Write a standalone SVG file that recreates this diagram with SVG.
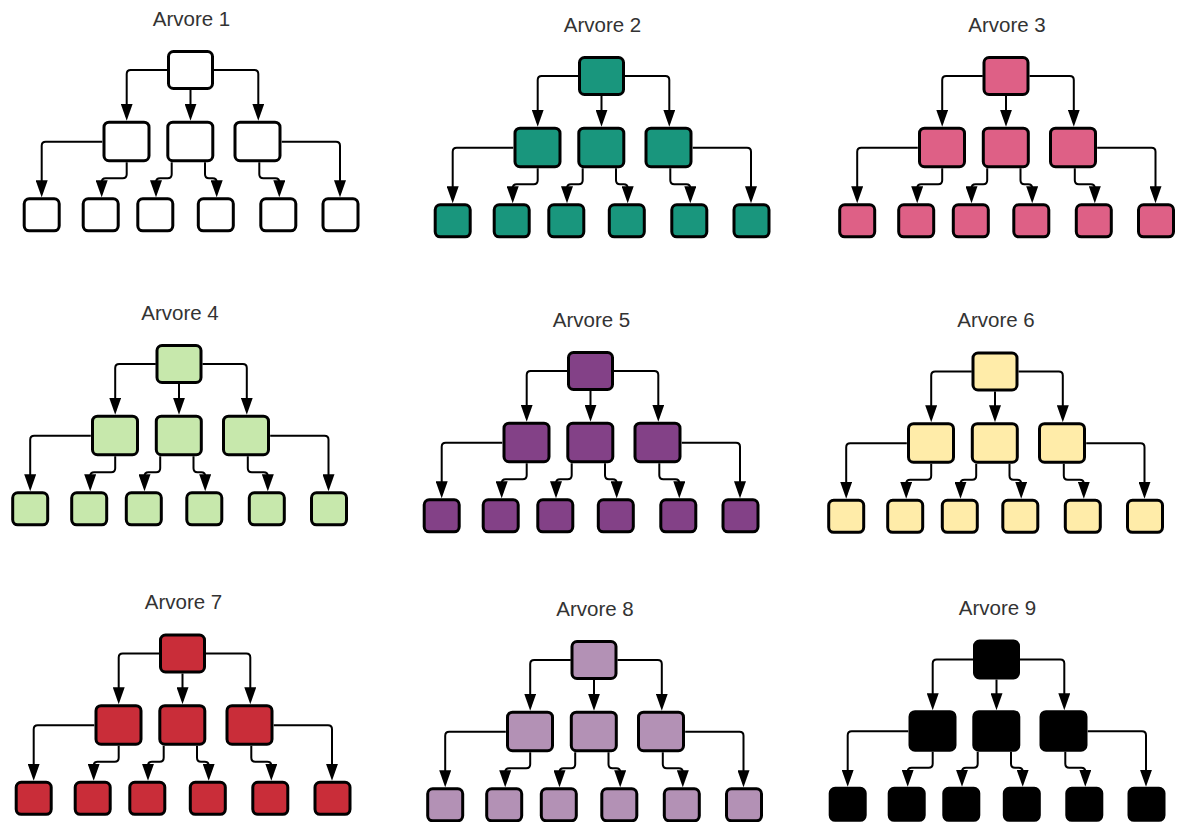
<svg xmlns="http://www.w3.org/2000/svg" width="1181" height="822" viewBox="0 0 1181 822">
  <defs>
    <marker id="arrow" markerUnits="userSpaceOnUse" markerWidth="17" markerHeight="12" refX="13" refY="6" orient="auto">
      <path d="M0,0 L17,6 L0,12 Z" fill="#000"/>
    </marker>
    <style>
      .title { font-family: "Liberation Sans", Arial, sans-serif; font-size: 20.5px; fill: #333333; text-anchor: middle; }
      .node rect { stroke: #000; stroke-width: 3; }
      .edges path { fill: none; stroke: #000; stroke-width: 2; marker-end: url(#arrow); }
      .t1 .node rect { fill: #ffffff; }
      .t2 .node rect { fill: #19967d; }
      .t3 .node rect { fill: #de6086; }
      .t4 .node rect { fill: #c7e8ac; }
      .t5 .node rect { fill: #834187; }
      .t6 .node rect { fill: #ffeca9; }
      .t7 .node rect { fill: #c92d39; }
      .t8 .node rect { fill: #b391b5; }
      .t9 .node rect { fill: #000000; }
    </style>
  </defs>
  <rect width="1181" height="822" fill="#ffffff"/>

  <!-- Arvore 1 -->
  <g id="tree1" class="t1" transform="translate(0,0)">
    <text class="title" x="191.5" y="25.7">Arvore 1</text>
    <g class="edges">
      <path d="M167.3,70 H130.7 Q126.7,70 126.7,74 V116.7"/>
      <path d="M190.5,90 V116.7"/>
      <path d="M214,70 H254.3 Q258.3,70 258.3,74 V116.7"/>
      <path d="M102.3,141.7 H45.7 Q41.7,141.7 41.7,145.7 V193.3"/>
      <path d="M126.7,162.3 V174.3 Q126.7,178.3 122.7,178.3 H105.7 Q101.7,178.3 101.7,182.3 V193.3"/>
      <path d="M171.7,162.3 V174.3 Q171.7,178.3 167.7,178.3 H160 Q156,178.3 156,182.3 V193.3"/>
      <path d="M205,162.3 V174.3 Q205,178.3 209,178.3 H212.7 Q216.7,178.3 216.7,182.3 V193.3"/>
      <path d="M259.3,162.3 V174.3 Q259.3,178.3 263.3,178.3 H275.3 Q279.3,178.3 279.3,182.3 V193.3"/>
      <path d="M281.7,141.7 H336 Q340,141.7 340,145.7 V193.3"/>
    </g>
    <g id="t1-root" class="node"><rect x="168.5" y="51.5" width="44" height="37" rx="5"/></g>
    <g id="t1-a" class="node"><rect x="104" y="122.2" width="45" height="38.5" rx="5"/></g>
    <g id="t1-b" class="node"><rect x="167.8" y="122.2" width="45" height="38.5" rx="5"/></g>
    <g id="t1-c" class="node"><rect x="235" y="122.2" width="45" height="38.5" rx="5"/></g>
    <g id="t1-l1" class="node"><rect x="24.2" y="198.8" width="35" height="32" rx="5"/></g>
    <g id="t1-l2" class="node"><rect x="83.2" y="198.8" width="35" height="32" rx="5"/></g>
    <g id="t1-l3" class="node"><rect x="137.8" y="198.8" width="35" height="32" rx="5"/></g>
    <g id="t1-l4" class="node"><rect x="198.3" y="198.8" width="35" height="32" rx="5"/></g>
    <g id="t1-l5" class="node"><rect x="260.8" y="198.8" width="35" height="32" rx="5"/></g>
    <g id="t1-l6" class="node"><rect x="323" y="198.8" width="35" height="32" rx="5"/></g>
  </g>

  <!-- Arvore 2 -->
  <g id="tree2" class="t2" transform="translate(411,6)">
    <text class="title" x="191.5" y="25.7">Arvore 2</text>
    <g class="edges">
      <path d="M167.3,70 H130.7 Q126.7,70 126.7,74 V116.7"/>
      <path d="M190.5,90 V116.7"/>
      <path d="M214,70 H254.3 Q258.3,70 258.3,74 V116.7"/>
      <path d="M102.3,141.7 H45.7 Q41.7,141.7 41.7,145.7 V193.3"/>
      <path d="M126.7,162.3 V174.3 Q126.7,178.3 122.7,178.3 H105.7 Q101.7,178.3 101.7,182.3 V193.3"/>
      <path d="M171.7,162.3 V174.3 Q171.7,178.3 167.7,178.3 H160 Q156,178.3 156,182.3 V193.3"/>
      <path d="M205,162.3 V174.3 Q205,178.3 209,178.3 H212.7 Q216.7,178.3 216.7,182.3 V193.3"/>
      <path d="M259.3,162.3 V174.3 Q259.3,178.3 263.3,178.3 H275.3 Q279.3,178.3 279.3,182.3 V193.3"/>
      <path d="M281.7,141.7 H336 Q340,141.7 340,145.7 V193.3"/>
    </g>
    <g id="t2-root" class="node"><rect x="168.5" y="51.5" width="44" height="37" rx="5"/></g>
    <g id="t2-a" class="node"><rect x="104" y="122.2" width="45" height="38.5" rx="5"/></g>
    <g id="t2-b" class="node"><rect x="167.8" y="122.2" width="45" height="38.5" rx="5"/></g>
    <g id="t2-c" class="node"><rect x="235" y="122.2" width="45" height="38.5" rx="5"/></g>
    <g id="t2-l1" class="node"><rect x="24.2" y="198.8" width="35" height="32" rx="5"/></g>
    <g id="t2-l2" class="node"><rect x="83.2" y="198.8" width="35" height="32" rx="5"/></g>
    <g id="t2-l3" class="node"><rect x="137.8" y="198.8" width="35" height="32" rx="5"/></g>
    <g id="t2-l4" class="node"><rect x="198.3" y="198.8" width="35" height="32" rx="5"/></g>
    <g id="t2-l5" class="node"><rect x="260.8" y="198.8" width="35" height="32" rx="5"/></g>
    <g id="t2-l6" class="node"><rect x="323" y="198.8" width="35" height="32" rx="5"/></g>
  </g>

  <!-- Arvore 3 -->
  <g id="tree3" class="t3" transform="translate(815.5,6)">
    <text class="title" x="191.5" y="25.7">Arvore 3</text>
    <g class="edges">
      <path d="M167.3,70 H130.7 Q126.7,70 126.7,74 V116.7"/>
      <path d="M190.5,90 V116.7"/>
      <path d="M214,70 H254.3 Q258.3,70 258.3,74 V116.7"/>
      <path d="M102.3,141.7 H45.7 Q41.7,141.7 41.7,145.7 V193.3"/>
      <path d="M126.7,162.3 V174.3 Q126.7,178.3 122.7,178.3 H105.7 Q101.7,178.3 101.7,182.3 V193.3"/>
      <path d="M171.7,162.3 V174.3 Q171.7,178.3 167.7,178.3 H160 Q156,178.3 156,182.3 V193.3"/>
      <path d="M205,162.3 V174.3 Q205,178.3 209,178.3 H212.7 Q216.7,178.3 216.7,182.3 V193.3"/>
      <path d="M259.3,162.3 V174.3 Q259.3,178.3 263.3,178.3 H275.3 Q279.3,178.3 279.3,182.3 V193.3"/>
      <path d="M281.7,141.7 H336 Q340,141.7 340,145.7 V193.3"/>
    </g>
    <g id="t3-root" class="node"><rect x="168.5" y="51.5" width="44" height="37" rx="5"/></g>
    <g id="t3-a" class="node"><rect x="104" y="122.2" width="45" height="38.5" rx="5"/></g>
    <g id="t3-b" class="node"><rect x="167.8" y="122.2" width="45" height="38.5" rx="5"/></g>
    <g id="t3-c" class="node"><rect x="235" y="122.2" width="45" height="38.5" rx="5"/></g>
    <g id="t3-l1" class="node"><rect x="24.2" y="198.8" width="35" height="32" rx="5"/></g>
    <g id="t3-l2" class="node"><rect x="83.2" y="198.8" width="35" height="32" rx="5"/></g>
    <g id="t3-l3" class="node"><rect x="137.8" y="198.8" width="35" height="32" rx="5"/></g>
    <g id="t3-l4" class="node"><rect x="198.3" y="198.8" width="35" height="32" rx="5"/></g>
    <g id="t3-l5" class="node"><rect x="260.8" y="198.8" width="35" height="32" rx="5"/></g>
    <g id="t3-l6" class="node"><rect x="323" y="198.8" width="35" height="32" rx="5"/></g>
  </g>

  <!-- Arvore 4 -->
  <g id="tree4" class="t4" transform="translate(-11.5,294)">
    <text class="title" x="191.5" y="25.7">Arvore 4</text>
    <g class="edges">
      <path d="M167.3,70 H130.7 Q126.7,70 126.7,74 V116.7"/>
      <path d="M190.5,90 V116.7"/>
      <path d="M214,70 H254.3 Q258.3,70 258.3,74 V116.7"/>
      <path d="M102.3,141.7 H45.7 Q41.7,141.7 41.7,145.7 V193.3"/>
      <path d="M126.7,162.3 V174.3 Q126.7,178.3 122.7,178.3 H105.7 Q101.7,178.3 101.7,182.3 V193.3"/>
      <path d="M171.7,162.3 V174.3 Q171.7,178.3 167.7,178.3 H160 Q156,178.3 156,182.3 V193.3"/>
      <path d="M205,162.3 V174.3 Q205,178.3 209,178.3 H212.7 Q216.7,178.3 216.7,182.3 V193.3"/>
      <path d="M259.3,162.3 V174.3 Q259.3,178.3 263.3,178.3 H275.3 Q279.3,178.3 279.3,182.3 V193.3"/>
      <path d="M281.7,141.7 H336 Q340,141.7 340,145.7 V193.3"/>
    </g>
    <g id="t4-root" class="node"><rect x="168.5" y="51.5" width="44" height="37" rx="5"/></g>
    <g id="t4-a" class="node"><rect x="104" y="122.2" width="45" height="38.5" rx="5"/></g>
    <g id="t4-b" class="node"><rect x="167.8" y="122.2" width="45" height="38.5" rx="5"/></g>
    <g id="t4-c" class="node"><rect x="235" y="122.2" width="45" height="38.5" rx="5"/></g>
    <g id="t4-l1" class="node"><rect x="24.2" y="198.8" width="35" height="32" rx="5"/></g>
    <g id="t4-l2" class="node"><rect x="83.2" y="198.8" width="35" height="32" rx="5"/></g>
    <g id="t4-l3" class="node"><rect x="137.8" y="198.8" width="35" height="32" rx="5"/></g>
    <g id="t4-l4" class="node"><rect x="198.3" y="198.8" width="35" height="32" rx="5"/></g>
    <g id="t4-l5" class="node"><rect x="260.8" y="198.8" width="35" height="32" rx="5"/></g>
    <g id="t4-l6" class="node"><rect x="323" y="198.8" width="35" height="32" rx="5"/></g>
  </g>

  <!-- Arvore 5 -->
  <g id="tree5" class="t5" transform="translate(400,301)">
    <text class="title" x="191.5" y="25.7">Arvore 5</text>
    <g class="edges">
      <path d="M167.3,70 H130.7 Q126.7,70 126.7,74 V116.7"/>
      <path d="M190.5,90 V116.7"/>
      <path d="M214,70 H254.3 Q258.3,70 258.3,74 V116.7"/>
      <path d="M102.3,141.7 H45.7 Q41.7,141.7 41.7,145.7 V193.3"/>
      <path d="M126.7,162.3 V174.3 Q126.7,178.3 122.7,178.3 H105.7 Q101.7,178.3 101.7,182.3 V193.3"/>
      <path d="M171.7,162.3 V174.3 Q171.7,178.3 167.7,178.3 H160 Q156,178.3 156,182.3 V193.3"/>
      <path d="M205,162.3 V174.3 Q205,178.3 209,178.3 H212.7 Q216.7,178.3 216.7,182.3 V193.3"/>
      <path d="M259.3,162.3 V174.3 Q259.3,178.3 263.3,178.3 H275.3 Q279.3,178.3 279.3,182.3 V193.3"/>
      <path d="M281.7,141.7 H336 Q340,141.7 340,145.7 V193.3"/>
    </g>
    <g id="t5-root" class="node"><rect x="168.5" y="51.5" width="44" height="37" rx="5"/></g>
    <g id="t5-a" class="node"><rect x="104" y="122.2" width="45" height="38.5" rx="5"/></g>
    <g id="t5-b" class="node"><rect x="167.8" y="122.2" width="45" height="38.5" rx="5"/></g>
    <g id="t5-c" class="node"><rect x="235" y="122.2" width="45" height="38.5" rx="5"/></g>
    <g id="t5-l1" class="node"><rect x="24.2" y="198.8" width="35" height="32" rx="5"/></g>
    <g id="t5-l2" class="node"><rect x="83.2" y="198.8" width="35" height="32" rx="5"/></g>
    <g id="t5-l3" class="node"><rect x="137.8" y="198.8" width="35" height="32" rx="5"/></g>
    <g id="t5-l4" class="node"><rect x="198.3" y="198.8" width="35" height="32" rx="5"/></g>
    <g id="t5-l5" class="node"><rect x="260.8" y="198.8" width="35" height="32" rx="5"/></g>
    <g id="t5-l6" class="node"><rect x="323" y="198.8" width="35" height="32" rx="5"/></g>
  </g>

  <!-- Arvore 6 -->
  <g id="tree6" class="t6" transform="translate(804.5,301.5)">
    <text class="title" x="191.5" y="25.7">Arvore 6</text>
    <g class="edges">
      <path d="M167.3,70 H130.7 Q126.7,70 126.7,74 V116.7"/>
      <path d="M190.5,90 V116.7"/>
      <path d="M214,70 H254.3 Q258.3,70 258.3,74 V116.7"/>
      <path d="M102.3,141.7 H45.7 Q41.7,141.7 41.7,145.7 V193.3"/>
      <path d="M126.7,162.3 V174.3 Q126.7,178.3 122.7,178.3 H105.7 Q101.7,178.3 101.7,182.3 V193.3"/>
      <path d="M171.7,162.3 V174.3 Q171.7,178.3 167.7,178.3 H160 Q156,178.3 156,182.3 V193.3"/>
      <path d="M205,162.3 V174.3 Q205,178.3 209,178.3 H212.7 Q216.7,178.3 216.7,182.3 V193.3"/>
      <path d="M259.3,162.3 V174.3 Q259.3,178.3 263.3,178.3 H275.3 Q279.3,178.3 279.3,182.3 V193.3"/>
      <path d="M281.7,141.7 H336 Q340,141.7 340,145.7 V193.3"/>
    </g>
    <g id="t6-root" class="node"><rect x="168.5" y="51.5" width="44" height="37" rx="5"/></g>
    <g id="t6-a" class="node"><rect x="104" y="122.2" width="45" height="38.5" rx="5"/></g>
    <g id="t6-b" class="node"><rect x="167.8" y="122.2" width="45" height="38.5" rx="5"/></g>
    <g id="t6-c" class="node"><rect x="235" y="122.2" width="45" height="38.5" rx="5"/></g>
    <g id="t6-l1" class="node"><rect x="24.2" y="198.8" width="35" height="32" rx="5"/></g>
    <g id="t6-l2" class="node"><rect x="83.2" y="198.8" width="35" height="32" rx="5"/></g>
    <g id="t6-l3" class="node"><rect x="137.8" y="198.8" width="35" height="32" rx="5"/></g>
    <g id="t6-l4" class="node"><rect x="198.3" y="198.8" width="35" height="32" rx="5"/></g>
    <g id="t6-l5" class="node"><rect x="260.8" y="198.8" width="35" height="32" rx="5"/></g>
    <g id="t6-l6" class="node"><rect x="323" y="198.8" width="35" height="32" rx="5"/></g>
  </g>

  <!-- Arvore 7 -->
  <g id="tree7" class="t7" transform="translate(-8,583.5)">
    <text class="title" x="191.5" y="25.7">Arvore 7</text>
    <g class="edges">
      <path d="M167.3,70 H130.7 Q126.7,70 126.7,74 V116.7"/>
      <path d="M190.5,90 V116.7"/>
      <path d="M214,70 H254.3 Q258.3,70 258.3,74 V116.7"/>
      <path d="M102.3,141.7 H45.7 Q41.7,141.7 41.7,145.7 V193.3"/>
      <path d="M126.7,162.3 V174.3 Q126.7,178.3 122.7,178.3 H105.7 Q101.7,178.3 101.7,182.3 V193.3"/>
      <path d="M171.7,162.3 V174.3 Q171.7,178.3 167.7,178.3 H160 Q156,178.3 156,182.3 V193.3"/>
      <path d="M205,162.3 V174.3 Q205,178.3 209,178.3 H212.7 Q216.7,178.3 216.7,182.3 V193.3"/>
      <path d="M259.3,162.3 V174.3 Q259.3,178.3 263.3,178.3 H275.3 Q279.3,178.3 279.3,182.3 V193.3"/>
      <path d="M281.7,141.7 H336 Q340,141.7 340,145.7 V193.3"/>
    </g>
    <g id="t7-root" class="node"><rect x="168.5" y="51.5" width="44" height="37" rx="5"/></g>
    <g id="t7-a" class="node"><rect x="104" y="122.2" width="45" height="38.5" rx="5"/></g>
    <g id="t7-b" class="node"><rect x="167.8" y="122.2" width="45" height="38.5" rx="5"/></g>
    <g id="t7-c" class="node"><rect x="235" y="122.2" width="45" height="38.5" rx="5"/></g>
    <g id="t7-l1" class="node"><rect x="24.2" y="198.8" width="35" height="32" rx="5"/></g>
    <g id="t7-l2" class="node"><rect x="83.2" y="198.8" width="35" height="32" rx="5"/></g>
    <g id="t7-l3" class="node"><rect x="137.8" y="198.8" width="35" height="32" rx="5"/></g>
    <g id="t7-l4" class="node"><rect x="198.3" y="198.8" width="35" height="32" rx="5"/></g>
    <g id="t7-l5" class="node"><rect x="260.8" y="198.8" width="35" height="32" rx="5"/></g>
    <g id="t7-l6" class="node"><rect x="323" y="198.8" width="35" height="32" rx="5"/></g>
  </g>

  <!-- Arvore 8 -->
  <g id="tree8" class="t8" transform="translate(403.5,590)">
    <text class="title" x="191.5" y="25.7">Arvore 8</text>
    <g class="edges">
      <path d="M167.3,70 H130.7 Q126.7,70 126.7,74 V116.7"/>
      <path d="M190.5,90 V116.7"/>
      <path d="M214,70 H254.3 Q258.3,70 258.3,74 V116.7"/>
      <path d="M102.3,141.7 H45.7 Q41.7,141.7 41.7,145.7 V193.3"/>
      <path d="M126.7,162.3 V174.3 Q126.7,178.3 122.7,178.3 H105.7 Q101.7,178.3 101.7,182.3 V193.3"/>
      <path d="M171.7,162.3 V174.3 Q171.7,178.3 167.7,178.3 H160 Q156,178.3 156,182.3 V193.3"/>
      <path d="M205,162.3 V174.3 Q205,178.3 209,178.3 H212.7 Q216.7,178.3 216.7,182.3 V193.3"/>
      <path d="M259.3,162.3 V174.3 Q259.3,178.3 263.3,178.3 H275.3 Q279.3,178.3 279.3,182.3 V193.3"/>
      <path d="M281.7,141.7 H336 Q340,141.7 340,145.7 V193.3"/>
    </g>
    <g id="t8-root" class="node"><rect x="168.5" y="51.5" width="44" height="37" rx="5"/></g>
    <g id="t8-a" class="node"><rect x="104" y="122.2" width="45" height="38.5" rx="5"/></g>
    <g id="t8-b" class="node"><rect x="167.8" y="122.2" width="45" height="38.5" rx="5"/></g>
    <g id="t8-c" class="node"><rect x="235" y="122.2" width="45" height="38.5" rx="5"/></g>
    <g id="t8-l1" class="node"><rect x="24.2" y="198.8" width="35" height="32" rx="5"/></g>
    <g id="t8-l2" class="node"><rect x="83.2" y="198.8" width="35" height="32" rx="5"/></g>
    <g id="t8-l3" class="node"><rect x="137.8" y="198.8" width="35" height="32" rx="5"/></g>
    <g id="t8-l4" class="node"><rect x="198.3" y="198.8" width="35" height="32" rx="5"/></g>
    <g id="t8-l5" class="node"><rect x="260.8" y="198.8" width="35" height="32" rx="5"/></g>
    <g id="t8-l6" class="node"><rect x="323" y="198.8" width="35" height="32" rx="5"/></g>
  </g>

  <!-- Arvore 9 -->
  <g id="tree9" class="t9" transform="translate(806,589.5)">
    <text class="title" x="191.5" y="25.7">Arvore 9</text>
    <g class="edges">
      <path d="M167.3,70 H130.7 Q126.7,70 126.7,74 V116.7"/>
      <path d="M190.5,90 V116.7"/>
      <path d="M214,70 H254.3 Q258.3,70 258.3,74 V116.7"/>
      <path d="M102.3,141.7 H45.7 Q41.7,141.7 41.7,145.7 V193.3"/>
      <path d="M126.7,162.3 V174.3 Q126.7,178.3 122.7,178.3 H105.7 Q101.7,178.3 101.7,182.3 V193.3"/>
      <path d="M171.7,162.3 V174.3 Q171.7,178.3 167.7,178.3 H160 Q156,178.3 156,182.3 V193.3"/>
      <path d="M205,162.3 V174.3 Q205,178.3 209,178.3 H212.7 Q216.7,178.3 216.7,182.3 V193.3"/>
      <path d="M259.3,162.3 V174.3 Q259.3,178.3 263.3,178.3 H275.3 Q279.3,178.3 279.3,182.3 V193.3"/>
      <path d="M281.7,141.7 H336 Q340,141.7 340,145.7 V193.3"/>
    </g>
    <g id="t9-root" class="node"><rect x="168.5" y="51.5" width="44" height="37" rx="5"/></g>
    <g id="t9-a" class="node"><rect x="104" y="122.2" width="45" height="38.5" rx="5"/></g>
    <g id="t9-b" class="node"><rect x="167.8" y="122.2" width="45" height="38.5" rx="5"/></g>
    <g id="t9-c" class="node"><rect x="235" y="122.2" width="45" height="38.5" rx="5"/></g>
    <g id="t9-l1" class="node"><rect x="24.2" y="198.8" width="35" height="32" rx="5"/></g>
    <g id="t9-l2" class="node"><rect x="83.2" y="198.8" width="35" height="32" rx="5"/></g>
    <g id="t9-l3" class="node"><rect x="137.8" y="198.8" width="35" height="32" rx="5"/></g>
    <g id="t9-l4" class="node"><rect x="198.3" y="198.8" width="35" height="32" rx="5"/></g>
    <g id="t9-l5" class="node"><rect x="260.8" y="198.8" width="35" height="32" rx="5"/></g>
    <g id="t9-l6" class="node"><rect x="323" y="198.8" width="35" height="32" rx="5"/></g>
  </g>
</svg>
